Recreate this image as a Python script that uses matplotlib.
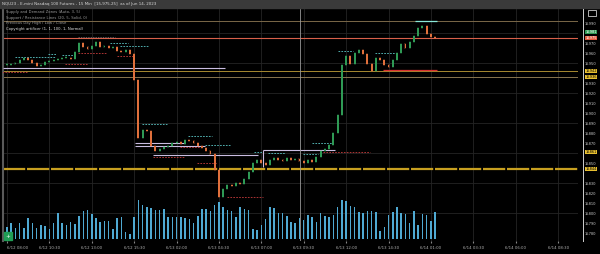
import numpy as np
import matplotlib.pyplot as plt
from matplotlib.patches import Rectangle
from matplotlib.lines import Line2D

# ---- data --------------------------------------------------------------
closes = [15948, 15949, 15950, 15953, 15955, 15953, 15950, 15947, 15948, 15951,
          15952, 15953, 15954, 15955, 15955, 15954, 15961, 15970, 15966,
          15964, 15967, 15971, 15966, 15967, 15965, 15966, 15962, 15961, 15963,
          15959, 15933, 15875, 15883, 15882, 15867, 15862, 15864, 15866, 15867,
          15870, 15871, 15869, 15873, 15872, 15870, 15867, 15865, 15862, 15859,
          15843, 15816, 15824, 15828, 15827, 15830, 15829, 15834, 15841, 15850,
          15853, 15850, 15848, 15853, 15855, 15853, 15852, 15855, 15853,
          15854, 15852, 15850, 15853, 15851, 15856, 15862, 15864, 15868, 15880,
          15898, 15948, 15957, 15949, 15960, 15963, 15959, 15949, 15942, 15955,
          15953, 15948, 15946, 15953, 15960, 15969, 15965, 15971, 15977, 15985,
          15987, 15979, 15976, 15975]

volumes = [12, 16, 11, 16, 11, 21, 16, 11, 14, 13, 10, 16, 26, 16, 14, 17, 15, 23,
           28, 29, 25, 21, 17, 18, 18, 10, 21, 22, 7, 5, 22, 39, 34, 32, 31, 29,
           29, 30, 22, 22, 22, 22, 21, 20, 16, 23, 30, 30, 28, 34, 37, 32, 29, 28,
           22, 32, 30, 29, 10, 9, 14, 20, 32, 31, 26, 26, 23, 17, 16, 21,
           19, 24, 22, 17, 26, 23, 22, 24, 32, 39, 38, 33, 32, 27, 26, 28, 28, 27,
           8, 12, 24, 27, 32, 26, 25, 16, 28, 14, 25, 24, 18, 27]

# full width levels: price, colour, width
levels = [(15992, '#7a6848', 0.7), (15975, '#d8604a', 0.8), (15942, '#a88a30', 0.7),
          (15936, '#8a7650', 0.7), (15844, '#c8a020', 1.6)]

# segments: price, start bar, end bar
lavender_segs = [(15945, -0.9, 51.4), (15870, 30.2, 42), (15867, 30.2, 46.7),
                 (15858, 34.4, 59.2), (15863, 60.4, 77.4)]
cyan_dash = [(15956, 1.9, 11.3), (15959, 9.7, 11.6), (15958, 13, 16), (15970, 24.3, 28.5),
             (15967, 26.7, 33.3), (15889, 31.8, 38), (15877, 42.7, 48.3), (15868, 46.7, 52.6),
             (15861, 58.3, 60.1), (15860, 61.6, 65.6), (15859, 69.8, 73.3), (15870, 71.9, 76.7),
             (15962, 78, 81.6), (15960, 86.8, 92.2)]
red_dash = [(15941, -1.2, 5), (15960, 16.7, 23.6), (15957, 25.9, 29.7), (15949, 13.7, 19.1),
            (15856, 34.4, 42), (15866, 40.8, 45.5), (15850, 44.8, 49.5), (15816, 51.9, 60.4),
            (15861, 74.5, 85.6)]
red_solid = (15943, 88.7, 101.4)
cyan_solid = (15992, 96.2, 101.4)
grey_dash = (15976, 16.7, 25.5)
cursor_bar = 69.1

price_ticks = list(range(15780, 16000, 10))
gold_labels = [15942, 15936, 15861, 15844]
last_price = 15975
bid_price = 15981
time_ticks = list(range(0, 140, 10))
time_labels = ['6/12 08:00', '6/12 10:30', '6/12 13:00', '6/12 15:30', '6/13 02:00',
               '6/13 04:30', '6/13 07:00', '6/13 09:30', '6/13 12:00', '6/13 14:30',
               '6/14 01:00', '6/14 03:30', '6/14 06:00', '6/14 08:30']

# ---- figure -------------------------------------------------------------
W, H = 600, 254
fig = plt.figure(figsize=(6, 2.54), dpi=100, facecolor='black')

def px(x, y):
    return x / W, 1 - y / H

# title bar
fig.patches.append(Rectangle((0, 1 - 8 / H), 1, 8 / H, transform=fig.transFigure,
                             color='#3a3a3a', zorder=0))
fig.text(*px(2, 4.3), 'NQU23 - E-mini Nasdaq 100 Futures - 15 Min  [15,975.25]  as of Jun 14, 2023',
         fontsize=2.9, color='#d8d8d8', va='center')

ax = fig.add_axes([3 / W, 1 - 241 / H, 575 / W, 232 / H], facecolor='black')
ax.set_xlim(-0.94, 134.7)
ax.set_ylim(15772, 16004)

vax = ax.twinx()
vax.set_ylim(-2, 230)
vax.axis('off')

# grid
for p in [15980, 15950, 15920, 15890, 15860, 15830, 15800]:
    ax.axhline(p, color='#242424', lw=0.6, zorder=0)
for t in time_ticks:
    ax.axvline(t, color='#242424', lw=0.6, zorder=0)

# volume
idx = np.arange(len(volumes))
vax.bar(idx, volumes, width=0.36, color='#4fa9d2', zorder=1)

# candles
c = np.array(closes)
o = np.concatenate([[c[0]], c[:-1]])
up = c >= o
body_lo = np.minimum(o, c)
body_h = np.maximum(np.abs(c - o), 0.8)
cols = np.where(up, '#2f9a55', '#e0703c')
ax.bar(np.arange(len(c)), body_h, bottom=body_lo, width=0.45, color=cols, zorder=4)
ax.vlines(np.arange(len(c)), body_lo - 1.2, body_lo + body_h + 1.2, color=cols, lw=0.35, zorder=4)

# levels
for p, col, lw in levels:
    ls = (0, (10, 0.8)) if lw > 1.5 else '-'
    ax.axhline(p, color=col, lw=lw, ls=ls, zorder=2)
for p, a, b in lavender_segs:
    ax.hlines(p, a, b, color='#c9bde0', lw=0.8, zorder=3)
ax.vlines(lavender_segs[-1][1], 15846, lavender_segs[-1][0], color='#c9bde0', lw=0.8, zorder=3)
for p, a, b in cyan_dash:
    ax.hlines(p, a, b, color='#5cc8c8', lw=0.6, ls=(0, (2, 1.5)), zorder=3)
for p, a, b in red_dash:
    ax.hlines(p, a, b, color='#c83c3c', lw=0.6, ls=(0, (2, 1.5)), zorder=3)
ax.hlines(grey_dash[0], grey_dash[1], grey_dash[2], color='#777777', lw=0.5, ls=(0, (2, 1.5)), zorder=3)
ax.hlines(red_solid[0], red_solid[1], red_solid[2], color='#d83030', lw=0.9, zorder=3)
ax.hlines(cyan_solid[0], cyan_solid[1], cyan_solid[2], color='#8ae8d8', lw=0.9, zorder=3)
ax.axvline(cursor_bar, color='#9a9a9a', lw=0.6, zorder=3)

# axes styling
for s in ax.spines.values():
    s.set_visible(False)
ax.spines['left'].set_visible(True)
ax.spines['left'].set_color('#5a5a5a')
ax.spines['left'].set_linewidth(1.5)
ax.yaxis.tick_right()
highlighted = gold_labels + [last_price, bid_price]
shown_ticks = [p for p in price_ticks if min(abs(p - h) for h in highlighted) > 4]
ax.set_yticks(shown_ticks)
ax.set_yticklabels(['%.0f' % p for p in shown_ticks])
ax.tick_params(axis='y', length=0, pad=5, labelsize=2.6, labelcolor='#c8c8c8')
ax.set_xticks(time_ticks)
ax.set_xticklabels(time_labels)
ax.tick_params(axis='x', length=1.5, color='#888888', pad=2, labelsize=2.8, labelcolor='#b0b0b0')
ax.get_xticklabels()[0].set_horizontalalignment('left')

# price axis line
fig.add_artist(Line2D([583 / W, 583 / W], [1 - 241 / H, 1 - 9 / H], color='#d0d0d0', lw=0.7))

# highlighted price labels
def price_tag(p, fc, tc):
    ax.text(1.0125, (p - 15772) / 232, '%.0f' % p, transform=ax.transAxes, fontsize=2.6,
            color=tc, va='center', ha='left',
            bbox=dict(boxstyle='square,pad=0.12', fc=fc, ec='none'))

for p in gold_labels:
    price_tag(p, '#e8c030', 'black')
price_tag(bid_price, '#2f9a55', 'white')
price_tag(last_price, '#e05a40', 'white')

# study legend
legend_lines = ['Supply and Demand Zones (Auto, 3, 5)',
                'Support / Resistance Lines (20, 5, Solid, 0)',
                'Previous Day High / Low / Close',
                'Copyright artificer (1, 1, 100, 1, Normal)']
for i, t in enumerate(legend_lines):
    fig.text(*px(6, 12 + 5.7 * i), t, fontsize=2.7, va='center',
             color='#e0e0e0' if i == 3 else '#9a9a9a')

# corner icons
fig.patches.append(Rectangle(px(4, 240), 8 / W, 8 / H, transform=fig.transFigure,
                             color='#1f9d55', zorder=5))
fig.text(*px(8, 236), '+', fontsize=4, color='white', ha='center', va='center', zorder=6)
fig.patches.append(Rectangle(px(588, 16), 8 / W, 6 / H, transform=fig.transFigure,
                             fc='none', ec='#cccccc', lw=0.6, zorder=5))

fig.savefig('out.png', dpi=100, facecolor='black')
